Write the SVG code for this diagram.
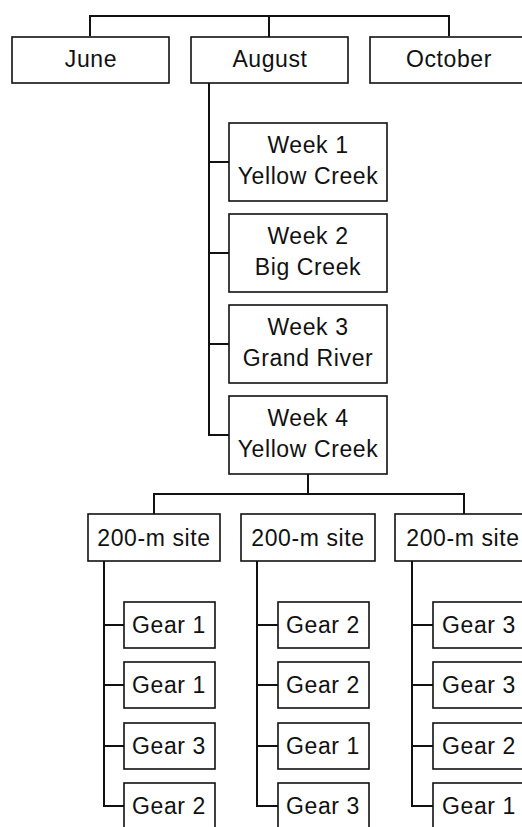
<svg xmlns="http://www.w3.org/2000/svg" width="522" height="827" viewBox="0 0 522 827">
<style>
rect{fill:#fff;stroke:#111;stroke-width:1.6}
text{font-family:"Liberation Sans",Arial,sans-serif;font-size:23px;letter-spacing:0.6px;fill:#111;text-anchor:middle}
.c path{fill:none;stroke:#111;stroke-width:2}
</style>
<rect x="0" y="0" width="522" height="827" style="stroke:none"/>
<g class="c" id="connectors">
<path d="M90,36V16H449V36M269,16V37"/>
<path d="M209,83V435H229M209,162H229M209,253H229M209,344H229"/>
<path d="M308,474V494M154,514V494H464V514"/>
<path d="M104,561V806H124M104,625H124M104,685H124M104,746H124"/>
<path d="M257,561V806H278M257,625H278M257,685H278M257,746H278"/>
<path d="M412,561V806H433M412,625H433M412,685H433M412,746H433"/>
</g>
<g id="june"><rect x="12" y="37" width="157" height="46"/><text x="91" y="67">June</text></g>
<g id="august"><rect x="191" y="37" width="157" height="46"/><text x="270" y="67">August</text></g>
<g id="october"><rect x="370" y="37" width="160" height="46"/><text x="449" y="67">October</text></g>
<g id="week1"><rect x="229" y="123" width="158" height="78"/><text x="308" y="153">Week 1</text><text x="308" y="184">Yellow Creek</text></g>
<g id="week2"><rect x="229" y="214" width="158" height="78"/><text x="308" y="244">Week 2</text><text x="308" y="275">Big Creek</text></g>
<g id="week3"><rect x="229" y="305" width="158" height="78"/><text x="308" y="335">Week 3</text><text x="308" y="366">Grand River</text></g>
<g id="week4"><rect x="229" y="396" width="158" height="78"/><text x="308" y="426">Week 4</text><text x="308" y="457">Yellow Creek</text></g>
<g id="site1"><rect x="88" y="514" width="132" height="47"/><text x="154" y="546">200-m site</text></g>
<g id="site2"><rect x="241" y="514" width="134" height="47"/><text x="308" y="546">200-m site</text></g>
<g id="site3"><rect x="395" y="514" width="134" height="47"/><text x="463" y="546">200-m site</text></g>
<g id="g1a"><rect x="124" y="602" width="91" height="46"/><text x="169" y="633">Gear 1</text></g>
<g id="g1b"><rect x="124" y="662" width="91" height="46"/><text x="169" y="693">Gear 1</text></g>
<g id="g1c"><rect x="124" y="723" width="91" height="46"/><text x="169" y="754">Gear 3</text></g>
<g id="g1d"><rect x="124" y="783" width="91" height="46"/><text x="169" y="814">Gear 2</text></g>
<g id="g2a"><rect x="278" y="602" width="91" height="46"/><text x="323" y="633">Gear 2</text></g>
<g id="g2b"><rect x="278" y="662" width="91" height="46"/><text x="323" y="693">Gear 2</text></g>
<g id="g2c"><rect x="278" y="723" width="91" height="46"/><text x="323" y="754">Gear 1</text></g>
<g id="g2d"><rect x="278" y="783" width="91" height="46"/><text x="323" y="814">Gear 3</text></g>
<g id="g3a"><rect x="433" y="602" width="93" height="46"/><text x="479" y="633">Gear 3</text></g>
<g id="g3b"><rect x="433" y="662" width="93" height="46"/><text x="479" y="693">Gear 3</text></g>
<g id="g3c"><rect x="433" y="723" width="93" height="46"/><text x="479" y="754">Gear 2</text></g>
<g id="g3d"><rect x="433" y="783" width="93" height="46"/><text x="479" y="814">Gear 1</text></g>
</svg>
